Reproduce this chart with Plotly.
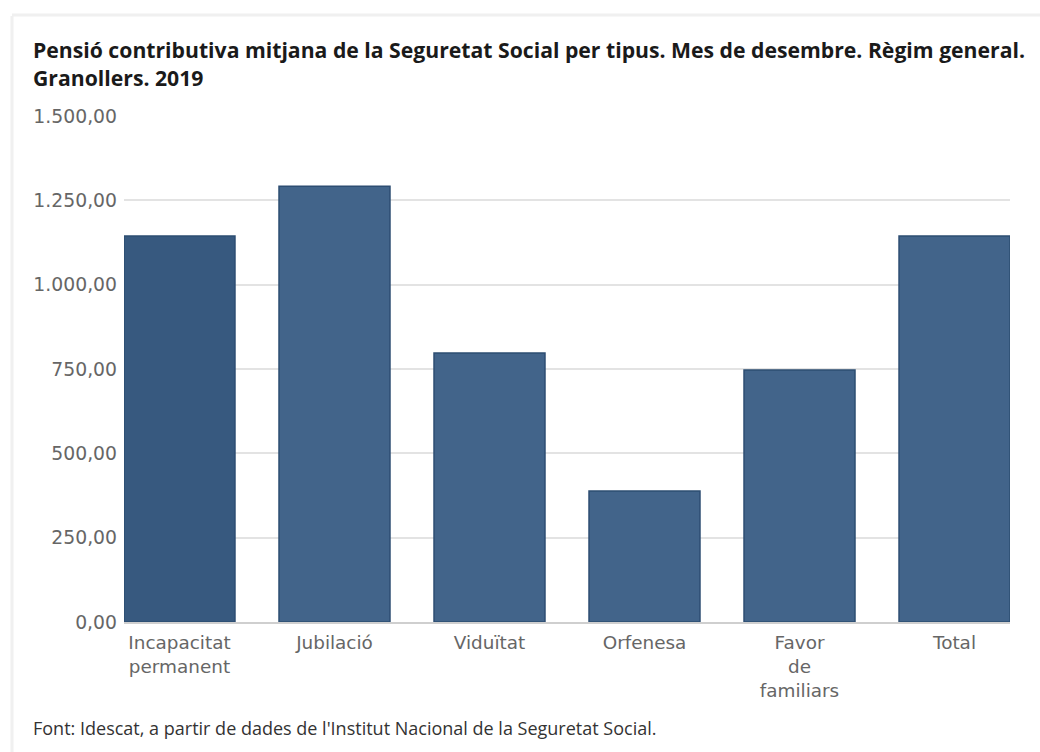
import plotly.graph_objects as go

categories = ["Incapacitat<br>permanent", "Jubilació", "Viduïtat", "Orfenesa", "Favor<br>de<br>familiars", "Total"]
values = [1144.0, 1292.0, 797.5, 388.0, 747.0, 1144.0]
bar_colors = ["#37597f", "#42648a", "#42648a", "#42648a", "#42648a", "#42648a"]
y_ticks = [0, 250, 500, 750, 1000, 1250, 1500]
y_tick_labels = ["0,00", "250,00", "500,00", "750,00", "1.000,00", "1.250,00", "1.500,00"]

bargap = 0.284
half = (1 - bargap) / 2

PW, PH = 886, 506  # plot area in px
def px(x):
    return (x - 124) / PW
def py(y):
    return (622 - y) / PH

fig = go.Figure(go.Bar(
    x=list(range(len(categories))),
    y=values,
    marker=dict(color=bar_colors, line=dict(color="#2d4d72", width=1.5)),
    hoverinfo="skip",
))

fig.update_layout(
    width=1040, height=752,
    margin=dict(l=124, r=30, t=116, b=130),
    paper_bgcolor="white", plot_bgcolor="white",
    bargap=bargap,
    showlegend=False,
    xaxis=dict(
        tickmode="array", tickvals=list(range(len(categories))), ticktext=categories,
        range=[-half, len(categories) - 1 + half],
        showgrid=False, showline=True, linecolor="#cfcfcf", linewidth=2,
        tickfont=dict(family="DejaVu Sans", size=18.4, color="#666666"),
        ticks="", ticklabelstandoff=3, fixedrange=True,
    ),
    yaxis=dict(
        range=[0, 1500], tickmode="array", tickvals=y_ticks, ticktext=y_tick_labels,
        showgrid=True, gridcolor="#e3e3e3", gridwidth=2,
        zeroline=False, showline=False,
        tickfont=dict(family="DejaVu Sans", size=18.8, color="#666666"),
        ticks="", ticklabelstandoff=6,
    ),
    annotations=[
        dict(
            text="<b>Pensió contributiva mitjana de la Seguretat Social per tipus. Mes de desembre. Règim general.<br>Granollers. 2019</b>",
            xref="paper", yref="paper", x=px(31), y=py(33),
            xanchor="left", yanchor="top", align="left", showarrow=False,
            font=dict(family="Open Sans", size=21.2, color="#1a1a1a"),
        ),
        dict(
            text="Font: Idescat, a partir de dades de l'Institut Nacional de la Seguretat Social.",
            xref="paper", yref="paper", x=px(31), y=py(728),
            xanchor="left", yanchor="middle", showarrow=False,
            font=dict(family="Open Sans", size=18, color="#333333"),
        ),
    ],
    shapes=[
        dict(type="line", xref="paper", yref="paper",
             x0=px(12), x1=px(12), y0=py(752), y1=py(16),
             line=dict(color="#f0f0f0", width=3)),
        dict(type="line", xref="paper", yref="paper",
             x0=px(12), x1=px(1040), y0=py(15), y1=py(15),
             line=dict(color="#f0f0f0", width=3)),
    ],
)

fig.write_html("out.html")
